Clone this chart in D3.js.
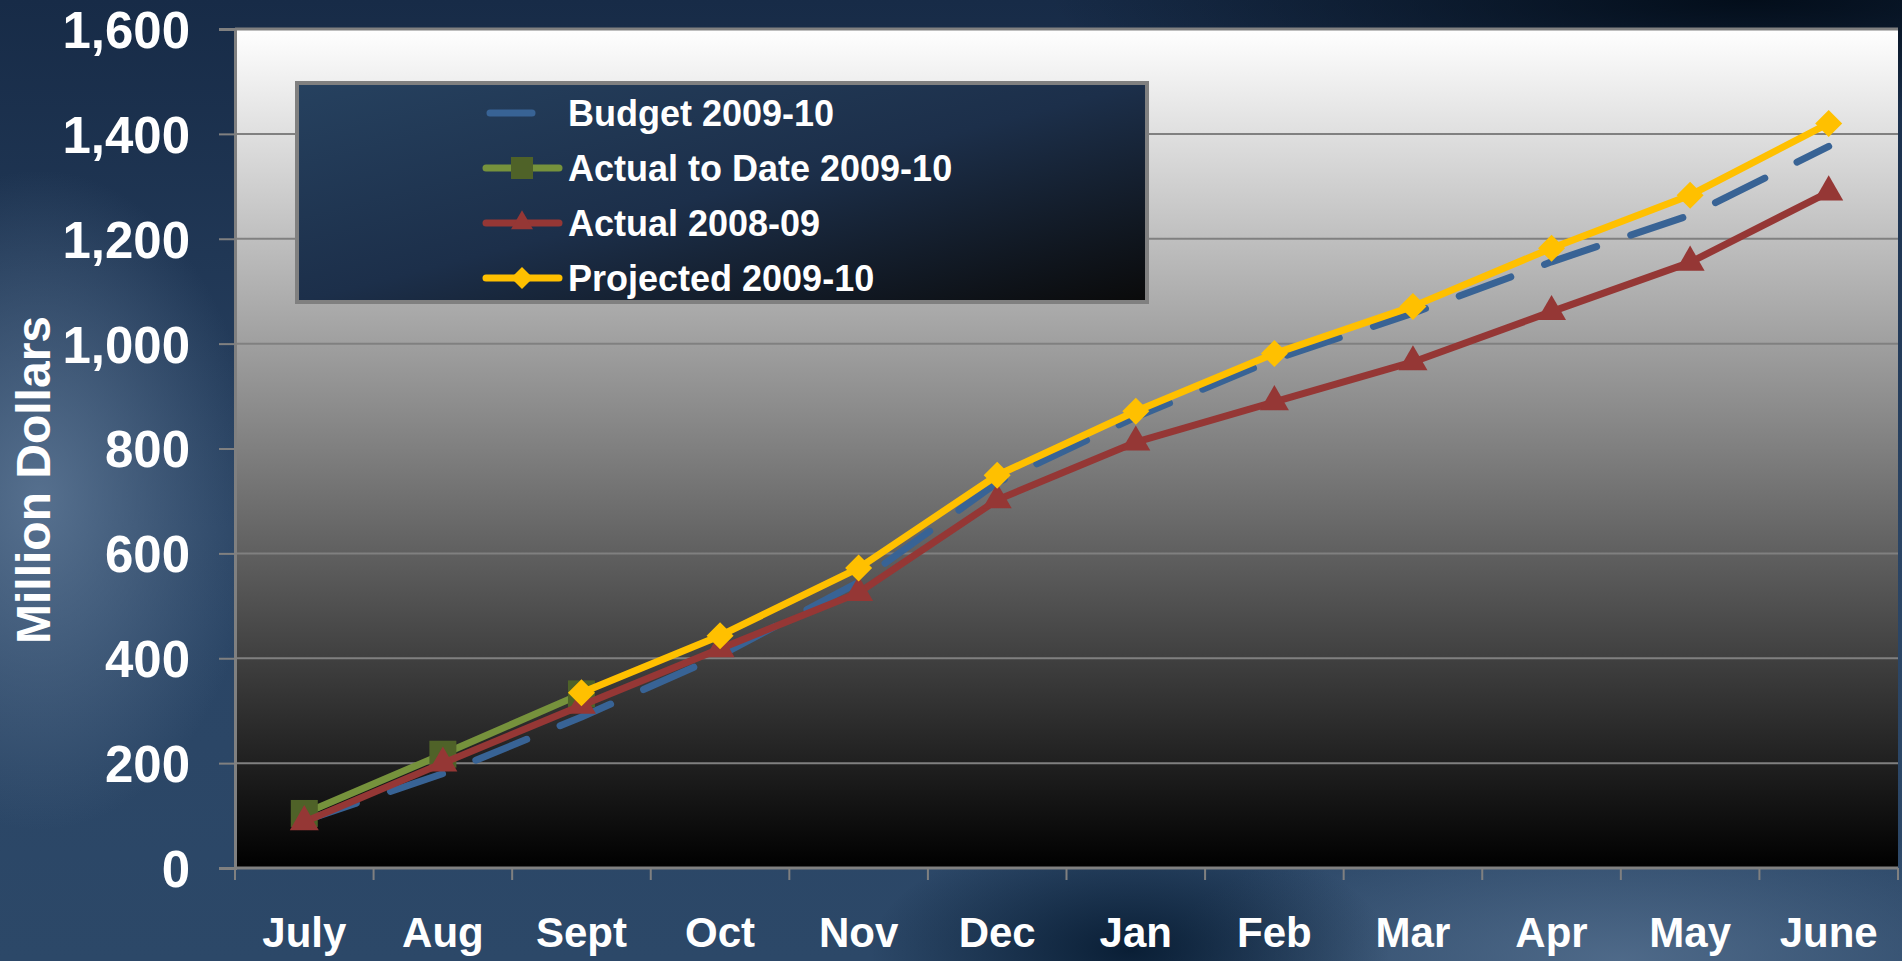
<!DOCTYPE html>
<html>
<head>
<meta charset="utf-8">
<script src="https://cdn.jsdelivr.net/npm/d3@7"></script>
<style>
    html, body { margin: 0; padding: 0; background: #1d3453; overflow: hidden; }
    text { font-family: "Liberation Sans", Arial, sans-serif; font-weight: bold; fill: #ffffff; }
</style>
</head>
<body>
<div id="chart"></div>
<script>
let months = ["July", "Aug", "Sept", "Oct", "Nov", "Dec", "Jan", "Feb", "Mar", "Apr", "May", "June"];
let yTicks = [0, 200, 400, 600, 800, 1000, 1200, 1400, 1600];

let budget = [90, 180, 288, 405, 545, 735, 860, 970, 1058, 1156, 1245, 1376];
let actualToDate = [104, 217, 332];
let actual0809 = [88, 200, 310, 418, 525, 702, 812, 889, 965, 1061, 1155, 1289];
let projected = [null, null, 334, 443, 572, 749, 871, 981, 1071, 1182, 1283, 1420];

let seriesNames = ["Budget 2009-10", "Actual to Date 2009-10", "Actual 2008-09", "Projected 2009-10"];

chart('#chart');

function chart(selector) {
    let W = 1902, H = 961;
    let margin = { top: 29, right: 4, bottom: 93, left: 235 },
        width = W - margin.left - margin.right,
        height = H - margin.top - margin.bottom;

    let svg = d3.select(selector)
        .append("svg")
        .attr("width", W)
        .attr("height", H);

    let defs = svg.append("defs");

    // page background, dark blue sky
    let bg = defs.append("linearGradient").attr("id", "bgGrad")
        .attr("x1", 0).attr("y1", 0).attr("x2", 0).attr("y2", 1);
    bg.append("stop").attr("offset", "0%").attr("stop-color", "#172b47");
    bg.append("stop").attr("offset", "55%").attr("stop-color", "#2a4464");
    bg.append("stop").attr("offset", "100%").attr("stop-color", "#2c4868");

    function glow(id, color, op) {
        let g = defs.append("radialGradient").attr("id", id);
        g.append("stop").attr("offset", "0%").attr("stop-color", color).attr("stop-opacity", op);
        g.append("stop").attr("offset", "100%").attr("stop-color", color).attr("stop-opacity", 0);
    }
    glow("glowLeft", "#5e7896", 0.85);
    glow("glowBR", "#5d7897", 0.7);
    glow("darkTR", "#020c18", 0.95);
    glow("darkBM", "#061a30", 0.9);

    svg.append("rect").attr("width", W).attr("height", H).attr("fill", "url(#bgGrad)");
    svg.append("ellipse").attr("cx", 40).attr("cy", 500).attr("rx", 220).attr("ry", 330).attr("fill", "url(#glowLeft)");
    svg.append("ellipse").attr("cx", 1620).attr("cy", 960).attr("rx", 460).attr("ry", 150).attr("fill", "url(#glowBR)");
    svg.append("ellipse").attr("cx", 1750).attr("cy", 0).attr("rx", 700).attr("ry", 120).attr("fill", "url(#darkTR)");
    svg.append("ellipse").attr("cx", 1130).attr("cy", 950).attr("rx", 260).attr("ry", 120).attr("fill", "url(#darkBM)");

    // plot area gradient
    let pg = defs.append("linearGradient").attr("id", "plotGrad")
        .attr("x1", 0).attr("y1", 0).attr("x2", 0).attr("y2", 1);
    pg.append("stop").attr("offset", "0%").attr("stop-color", "#ffffff");
    pg.append("stop").attr("offset", "100%").attr("stop-color", "#000000");

    let lg = defs.append("linearGradient").attr("id", "legendGrad")
        .attr("x1", 0).attr("y1", 0).attr("x2", 1).attr("y2", 1);
    lg.append("stop").attr("offset", "0%").attr("stop-color", "#26415f");
    lg.append("stop").attr("offset", "50%").attr("stop-color", "#1c2f4a");
    lg.append("stop").attr("offset", "100%").attr("stop-color", "#0a0a0a");

    let g = svg.append("g")
        .attr("transform", "translate(" + margin.left + "," + margin.top + ")");

    let x = d3.scaleBand()
        .domain(months)
        .range([0, width])
        .padding(0);
    let y = d3.scaleLinear()
        .domain([0, 1600])
        .range([height, 0]);
    let cx = d => x(d) + x.bandwidth() / 2;

    g.append("rect")
        .attr("width", width)
        .attr("height", height)
        .attr("fill", "url(#plotGrad)");

    // gridlines
    g.append("g")
        .selectAll("line")
        .data(yTicks.filter(d => d > 0))
        .enter()
        .append("line")
        .attr("x1", 0).attr("x2", width)
        .attr("y1", d => y(d)).attr("y2", d => y(d))
        .attr("stroke", "#808080")
        .attr("stroke-width", d => d === 1600 ? 3 : 2);

    // y axis
    let yAxis = g.append("g")
        .call(d3.axisLeft(y).tickValues(yTicks).tickSize(16).tickPadding(29).tickFormat(d3.format(",")));
    yAxis.select(".domain").attr("stroke", "#808080").attr("stroke-width", 3);
    yAxis.selectAll(".tick line").attr("stroke", "#808080").attr("stroke-width", 2);
    yAxis.selectAll("text")
        .style("font-size", "51px")
        .style("font-family", "'Liberation Sans', Arial, sans-serif")
        .style("font-weight", "bold")
        .attr("fill", "#ffffff")
        .attr("dy", "0.36em");

    // x axis
    let xAxis = g.append("g")
        .attr("transform", "translate(0," + height + ")")
        .call(d3.axisBottom(x).tickSize(0).tickPadding(49));
    xAxis.select(".domain").remove();
    xAxis.selectAll("text")
        .style("font-size", "42px")
        .style("font-family", "'Liberation Sans', Arial, sans-serif")
        .style("font-weight", "bold")
        .attr("fill", "#ffffff");
    g.append("line")
        .attr("x1", 0).attr("x2", width)
        .attr("y1", height).attr("y2", height)
        .attr("stroke", "#808080").attr("stroke-width", 3);
    g.append("g")
        .selectAll("line")
        .data(months.concat(["end"]))
        .enter()
        .append("line")
        .attr("x1", (d, i) => i < months.length ? x(d) : width)
        .attr("x2", (d, i) => i < months.length ? x(d) : width)
        .attr("y1", height).attr("y2", height + 12)
        .attr("stroke", "#808080").attr("stroke-width", 2);

    // y title
    svg.append("text")
        .attr("transform", "translate(50,480) rotate(-90)")
        .style("text-anchor", "middle")
        .style("font-size", "48px")
        .text("Million Dollars");

    // series
    let line = d3.line()
        .defined(d => d.v != null)
        .x(d => cx(d.m))
        .y(d => y(d.v));
    let pts = arr => arr.map((v, i) => ({ m: months[i], v: v }));

    let series = [
        { name: seriesNames[0], data: pts(budget), color: "#386395", dash: "55 36", marker: null },
        { name: seriesNames[1], data: pts(actualToDate), color: "#76923c", marker: "square", mcolor: "#4f6228" },
        { name: seriesNames[2], data: pts(actual0809), color: "#953735", marker: "triangle", mcolor: "#953735" },
        { name: seriesNames[3], data: pts(projected), color: "#ffc000", marker: "diamond", mcolor: "#ffc000" }
    ];

    function symbolPath(type, s) {
        if (type === "square") return d3.symbol(d3.symbolSquare, s * s)();
        if (type === "triangle") return d3.symbol(d3.symbolTriangle, 0.433 * s * s)();
        return d3.symbol(d3.symbolSquare, s * s / 2)();
    }

    series.forEach(function (s) {
        g.append("path")
            .datum(s.data)
            .attr("d", line)
            .attr("fill", "none")
            .attr("stroke", s.color)
            .attr("stroke-width", 7)
            .attr("stroke-linejoin", "round")
            .attr("stroke-linecap", s.dash ? "round" : "butt")
            .attr("stroke-dasharray", s.dash || null);
        if (s.marker) {
            let size = s.marker === "square" ? 27 : s.marker === "triangle" ? 29 : 27;
            g.selectAll(null)
                .data(s.data.filter(d => d.v != null))
                .enter()
                .append("path")
                .attr("d", symbolPath(s.marker, size))
                .attr("transform", d => "translate(" + cx(d.m) + "," + y(d.v) + ")" + (s.marker === "diamond" ? " rotate(45)" : ""))
                .attr("fill", s.mcolor);
        }
    });

    // legend
    let legend = svg.append("g").attr("transform", "translate(297,83)");
    legend.append("rect")
        .attr("width", 850).attr("height", 219)
        .attr("fill", "url(#legendGrad)")
        .attr("stroke", "#808080").attr("stroke-width", 4);
    let rows = legend.selectAll("g.row")
        .data(series)
        .enter()
        .append("g")
        .attr("class", "row")
        .attr("transform", (d, i) => "translate(0," + (30 + i * 55) + ")");
    rows.append("line")
        .attr("x1", d => d.dash ? 193 : 189).attr("x2", 262)
        .attr("stroke", d => d.color)
        .attr("stroke-width", 7)
        .attr("stroke-linecap", "round")
        .attr("stroke-dasharray", d => d.dash ? "42 60" : null);
    rows.filter(d => d.marker)
        .append("path")
        .attr("d", d => symbolPath(d.marker, 22))
        .attr("transform", d => "translate(225,0)" + (d.marker === "diamond" ? " rotate(45)" : ""))
        .attr("fill", d => d.mcolor);
    rows.append("text")
        .attr("x", 271)
        .attr("dy", "0.36em")
        .style("font-size", "36px")
        .text(d => d.name);
}
</script>
</body>
</html>
